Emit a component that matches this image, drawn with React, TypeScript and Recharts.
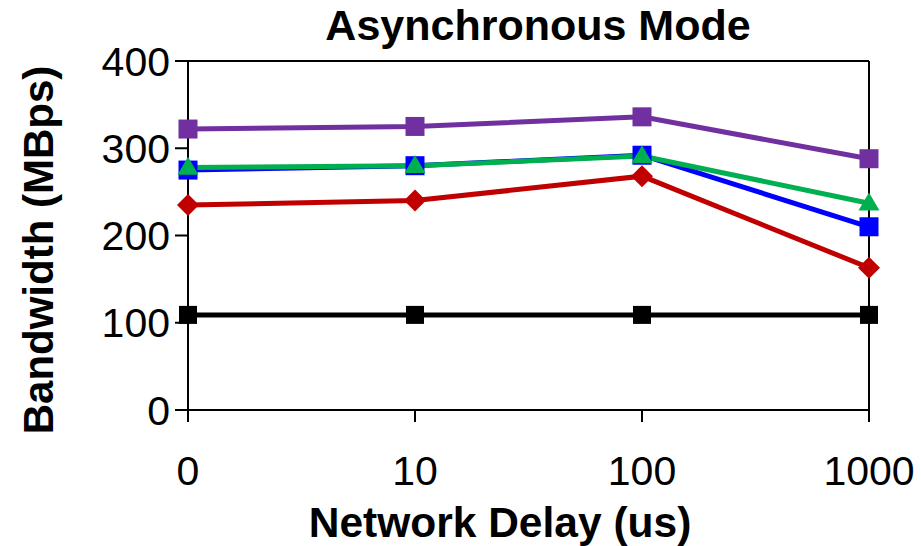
import React from 'react';
import { LineChart, Line, XAxis, YAxis, ReferenceLine } from 'recharts';

const delays = ['0', '10', '100', '1000'];
const purpleSeries = [322, 325, 336, 288];
const greenSeries = [278, 280, 291, 237];
const blueSeries = [275, 280, 292, 210];
const redSeries = [235, 240, 268, 163];
const blackSeries = [109, 109, 109, 109];
const yTicks = [0, 100, 200, 300, 400];

const data = delays.map((d, i) => ({
  delay: d,
  purple: purpleSeries[i],
  green: greenSeries[i],
  blue: blueSeries[i],
  red: redSeries[i],
  black: blackSeries[i],
}));

const FONT = '"Liberation Sans", Arial, sans-serif';

const square = (color: string, size: number) => (props: any) => {
  const { cx, cy, index } = props;
  return <rect key={`s-${color}-${index}`} x={cx - size / 2} y={cy - size / 2} width={size} height={size} fill={color} />;
};

const diamond = (color: string, r: number) => (props: any) => {
  const { cx, cy, index } = props;
  return (
    <polygon
      key={`d-${index}`}
      points={`${cx},${cy - r} ${cx + r},${cy} ${cx},${cy + r} ${cx - r},${cy}`}
      fill={color}
    />
  );
};

const triangle = (color: string, w: number, h: number) => (props: any) => {
  const { cx, cy, index } = props;
  return (
    <polygon
      key={`t-${index}`}
      points={`${cx},${cy - h * 0.6} ${cx + w / 2},${cy + h * 0.4} ${cx - w / 2},${cy + h * 0.4}`}
      fill={color}
    />
  );
};

export default function App() {
  return (
    <div style={{ position: 'absolute', left: 0, top: 0, width: 921, height: 546, background: '#fff' }}>
      <LineChart
        width={921}
        height={546}
        data={data}
        margin={{ top: 61, right: 52, bottom: 76, left: 108 }}
      >
        <XAxis
          dataKey="delay"
          height={60}
          tickSize={12}
          tickMargin={34}
          axisLine={{ stroke: '#000', strokeWidth: 2 }}
          tickLine={{ stroke: '#000', strokeWidth: 2 }}
          tick={{ fill: '#000', fontSize: 41, fontFamily: FONT }}
          interval={0}
        />
        <YAxis
          width={80}
          domain={[0, 400]}
          ticks={yTicks}
          tickSize={13}
          tickMargin={5}
          axisLine={{ stroke: '#000', strokeWidth: 2 }}
          tickLine={{ stroke: '#000', strokeWidth: 2 }}
          tick={{ fill: '#000', fontSize: 41, fontFamily: FONT }}
        />
        <ReferenceLine y={400} stroke="#000" strokeWidth={2} />
        <ReferenceLine x="1000" stroke="#000" strokeWidth={2} />
        <Line
          dataKey="black"
          stroke="#000000"
          strokeWidth={5}
          dot={square('#000000', 18)}
          isAnimationActive={false}
        />
        <Line
          dataKey="red"
          stroke="#C00000"
          strokeWidth={5}
          dot={diamond('#C00000', 11)}
          isAnimationActive={false}
        />
        <Line
          dataKey="blue"
          stroke="#0000FF"
          strokeWidth={5}
          dot={square('#0000FF', 19)}
          isAnimationActive={false}
        />
        <Line
          dataKey="green"
          stroke="#00B050"
          strokeWidth={5}
          dot={triangle('#00B050', 21, 18)}
          isAnimationActive={false}
        />
        <Line
          dataKey="purple"
          stroke="#7030A0"
          strokeWidth={5}
          dot={square('#7030A0', 19)}
          isAnimationActive={false}
        />
      </LineChart>
      <svg
        width={921}
        height={546}
        style={{ position: 'absolute', left: 0, top: 0, pointerEvents: 'none' }}
      >
        <text x={538} y={40} textAnchor="middle" fontFamily={FONT} fontWeight="bold" fontSize={43} fill="#000">
          Asynchronous Mode
        </text>
        <text x={500} y={537} textAnchor="middle" fontFamily={FONT} fontWeight="bold" fontSize={42.5} fill="#000">
          Network Delay (us)
        </text>
        <text
          x={53}
          y={250}
          textAnchor="middle"
          fontFamily={FONT}
          fontWeight="bold"
          fontSize={42}
          fill="#000"
          transform="rotate(-90, 53, 250)"
        >
          Bandwidth (MBps)
        </text>
      </svg>
    </div>
  );
}
